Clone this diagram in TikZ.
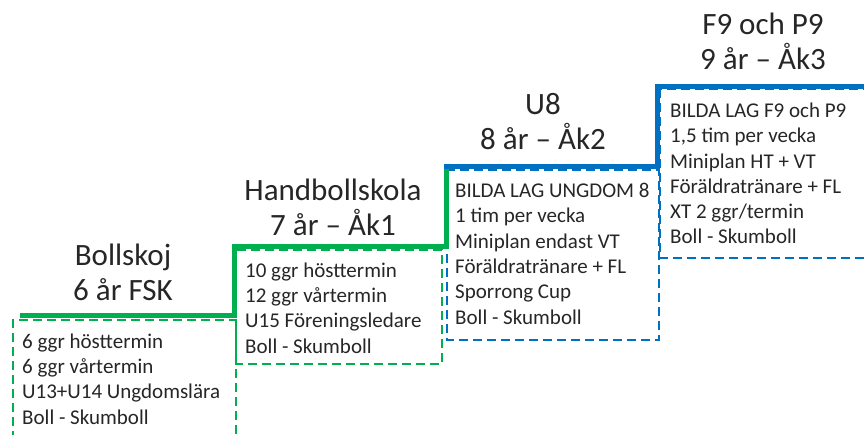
\documentclass[tikz,border=0pt]{standalone}
\usepackage{fontspec}
\setmainfont{Carlito}
\usepackage{tikz}
\usetikzlibrary{positioning}
\definecolor{gron}{HTML}{00B050}
\definecolor{bla}{HTML}{0070C0}
\definecolor{mork}{HTML}{262626}

\begin{document}
\begin{tikzpicture}[x=1pt, y=-1pt,
    rubrik/.style={font=\fontsize{31}{35}\selectfont, text=mork, align=center, inner sep=0pt, anchor=base},
    lista/.style={font=\fontsize{21}{25.3}\selectfont, text=mork, align=left, inner sep=0pt, anchor=base west},
    trappa/.style={line width=5pt},
    ruta/.style={line width=2.5pt, dash pattern=on 9pt off 5pt}]
    % Ram
    \useasboundingbox (0,0) rectangle (864,435);

    % Rutor
    \draw[ruta, gron] (13,440) -- (13,320) -- (236,320) -- (236,440);
    \draw[ruta, gron] (236,250) rectangle (442,364);
    \draw[ruta, bla] (447,170) rectangle (659,340);
    \draw[ruta, bla] (660,89) rectangle (870,258);

    % Trappa
    \draw[trappa, gron] (20,316) -- (234,316) -- (234,247) -- (446,247) -- (446,165);
    \draw[trappa, bla] (444,167) -- (657,167) -- (657,87) -- (870,87);

    % Rubriker (sista radens baslinje)
    \node[rubrik] (bollskoj) at (123,301) {Bollskoj\\6 år FSK};
    \node[rubrik] (handboll) at (333,236) {Handbollskola\\7 år – Åk1};
    \node[rubrik] (u8) at (543,150) {U8\\8 år – Åk2};
    \node[rubrik] (f9) at (763,70) {F9 och P9\\9 år – Åk3};

    % Innehåll (sista radens baslinje)
    \node[lista] (fsk) at (22,424) {6 ggr hösttermin\\6 ggr vårtermin\\U13+U14 Ungdomslära\\Boll - Skumboll};
    \node[lista] (ak1) at (245,353) {10 ggr hösttermin\\12 ggr vårtermin\\U15 Föreningsledare\\Boll - Skumboll};
    \node[lista] (ak2) at (455,324) {BILDA LAG UNGDOM 8\\1 tim per vecka\\Miniplan endast VT\\Föräldratränare + FL\\Sporrong Cup\\Boll - Skumboll};
    \node[lista] (ak3) at (670,244) {BILDA LAG F9 och P9\\1,5 tim per vecka\\Miniplan HT + VT\\Föräldratränare + FL\\XT 2 ggr/termin\\Boll - Skumboll};
\end{tikzpicture}
\end{document}
